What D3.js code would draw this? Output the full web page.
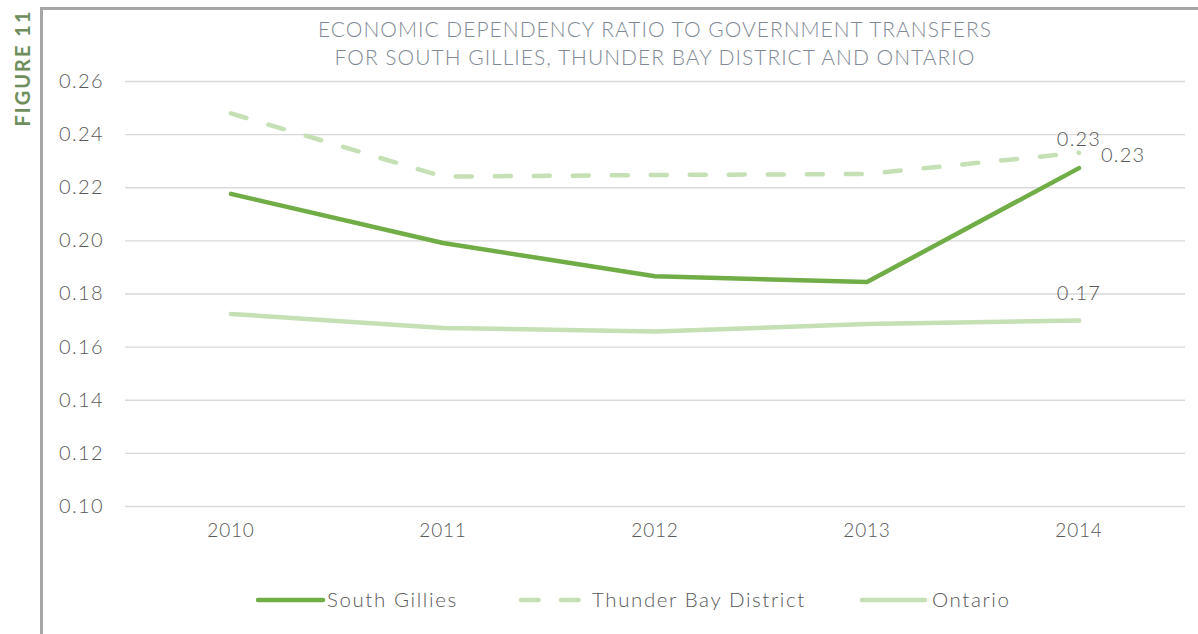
<!DOCTYPE html>
<html>
<head>
<meta charset="utf-8">
<script src="https://cdn.jsdelivr.net/npm/d3@7"></script>
<style>
  html, body { margin: 0; padding: 0; background: #fff; }
  svg { display: block; }
  text { font-family: "Lato", "Noto Sans", sans-serif; font-weight: 300; }
</style>
</head>
<body>
<svg id="chart" width="1198" height="634"></svg>
<script>
const years = ["2010", "2011", "2012", "2013", "2014"];
const southGillies = [0.2175, 0.1990, 0.1865, 0.1843, 0.2272];
const thunderBay = [0.2478, 0.2240, 0.2246, 0.2250, 0.2330];
const ontario = [0.1723, 0.1670, 0.1657, 0.1685, 0.1698];
const yTicks = [0.10, 0.12, 0.14, 0.16, 0.18, 0.20, 0.22, 0.24, 0.26];
const titleLines = ["ECONOMIC DEPENDENCY RATIO TO GOVERNMENT TRANSFERS",
                    "FOR SOUTH GILLIES, THUNDER BAY DISTRICT AND ONTARIO"];
const seriesNames = ["South Gillies", "Thunder Bay District", "Ontario"];

const svg = d3.select("#chart");
const W = 1198, H = 634;

// frame
svg.append("line").attr("x1", 41.5).attr("x2", 41.5).attr("y1", 7).attr("y2", H)
  .attr("stroke", "#a6a6a6").attr("stroke-width", 3);
svg.append("line").attr("x1", 40).attr("x2", W).attr("y1", 8.5).attr("y2", 8.5)
  .attr("stroke", "#a6a6a6").attr("stroke-width", 3);

svg.append("text").attr("transform", "translate(29.5,68) rotate(-90)")
  .attr("text-anchor", "middle").attr("fill", "#6e8f5d")
  .style("font-weight", "bold").attr("font-size", 20).attr("letter-spacing", 2)
  .text("FIGURE 11");

const x = d3.scaleBand().domain(years).range([125, 1185]);
const y = d3.scaleLinear().domain([0.10, 0.26]).range([506, 81]);

// gridlines
const grid = svg.append("g").attr("transform", "translate(125,0)")
  .call(d3.axisLeft(y).tickValues(yTicks).tickSize(-(1185 - 125)).tickFormat(""));
grid.select(".domain").remove();
grid.selectAll(".tick line").attr("stroke", "#d9d9d9").attr("stroke-width", 1.4);

// y labels
const yAxis = svg.append("g").attr("transform", "translate(125,0)")
  .call(d3.axisLeft(y).tickValues(yTicks).tickSize(0).tickPadding(21).tickFormat(d3.format(".2f")));
yAxis.select(".domain").remove();
yAxis.selectAll("text").attr("font-size", 20).attr("fill", "#595959")
  .attr("font-family", null).attr("letter-spacing", 1.4);

// x labels
const xAxis = svg.append("g").attr("transform", "translate(0,506)")
  .call(d3.axisBottom(x).tickSize(0).tickPadding(18));
xAxis.select(".domain").remove();
xAxis.selectAll("text").attr("font-size", 19).attr("fill", "#595959")
  .attr("font-family", null).attr("letter-spacing", 0.8);

// title
titleLines.forEach((t, i) => {
  svg.append("text").attr("x", 655).attr("y", 37 + i * 28)
    .attr("text-anchor", "middle").attr("font-size", 21).attr("fill", "#7f8a96")
    .attr("letter-spacing", 1.0)
    .text(t);
});

const line = d3.line()
  .x((d, i) => x(years[i]) + x.bandwidth() / 2)
  .y(d => y(d))
  .curve(d3.curveLinear);

const styles = [
  { data: southGillies, color: "#70ad47", dash: null },
  { data: thunderBay, color: "#c5e0b4", dash: "16,23" },
  { data: ontario, color: "#c5e0b4", dash: null }
];
[styles[2], styles[1], styles[0]].forEach(s => {
  svg.append("path").datum(s.data).attr("d", line)
    .attr("fill", "none").attr("stroke", s.color).attr("stroke-width", 4.5)
    .attr("stroke-linecap", "round").attr("stroke-linejoin", "round")
    .attr("stroke-dasharray", s.dash);
});

// data labels at 2014
const lx = x("2014") + x.bandwidth() / 2;
const fmt = d3.format(".2f");
const labels = [
  { v: thunderBay[4], dx: 0, dy: -7, anchor: "middle" },
  { v: southGillies[4], dx: 22, dy: -6, anchor: "start" },
  { v: ontario[4], dx: 0, dy: -21, anchor: "middle" }
];
labels.forEach(l => {
  svg.append("text").attr("x", lx + l.dx).attr("y", y(l.v) + l.dy)
    .attr("text-anchor", l.anchor).attr("font-size", 20).attr("fill", "#595959")
    .attr("letter-spacing", 1.2)
    .text(fmt(l.v));
});

// legend
const lg = svg.append("g");
const legendItems = [
  { name: seriesNames[0], x1: 258, x2: 323, tx: 327, color: "#70ad47", dash: null },
  { name: seriesNames[1], x1: 521, x2: 579, tx: 592, color: "#c5e0b4", dash: "17.5,22.5" },
  { name: seriesNames[2], x1: 862, x2: 925, tx: 932, color: "#c5e0b4", dash: null }
];
legendItems.forEach(it => {
  lg.append("line").attr("x1", it.x1).attr("x2", it.x2).attr("y1", 600).attr("y2", 600)
    .attr("stroke", it.color).attr("stroke-width", 4.5).attr("stroke-linecap", "round")
    .attr("stroke-dasharray", it.dash);
  lg.append("text").attr("x", it.tx).attr("y", 607).attr("font-size", 20.5)
    .attr("fill", "#595959").attr("letter-spacing", 1.6).text(it.name);
});
</script>
</body>
</html>
